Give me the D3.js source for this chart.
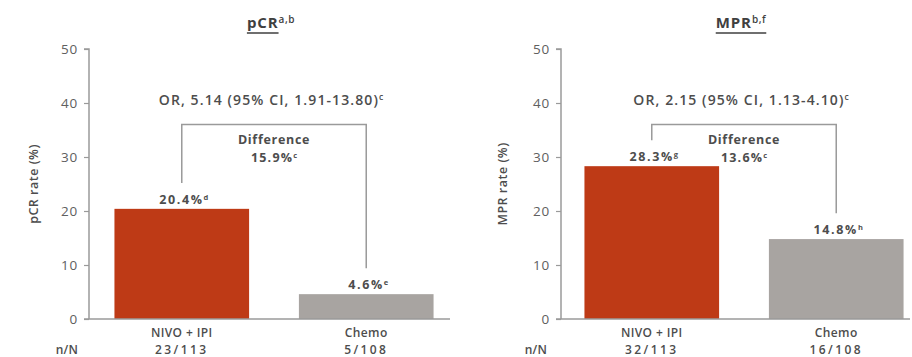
<!DOCTYPE html>
<html>
<head>
<meta charset="utf-8">
<script src="https://cdn.jsdelivr.net/npm/d3@7/dist/d3.min.js"></script>
<style>
  html, body { margin: 0; padding: 0; background: #fff; }
  svg { display: block; font-family: "Open Sans", "Noto Sans", sans-serif; }
</style>
</head>
<body>
<svg id="chart" width="912" height="357"></svg>
<script>
// Response rates by arm
const categories = ["NIVO + IPI", "Chemo"];
const pcrValues = [20.4, 4.6];
const pcrNotes = ["d", "e"];
const pcrCounts = ["23/113", "5/108"];
const mprValues = [28.3, 14.8];
const mprNotes = ["g", "h"];
const mprCounts = ["32/113", "16/108"];
const yTicks = [0, 10, 20, 30, 40, 50];
const differences = ["15.9%", "13.6%"];
const oddsRatios = ["OR, 5.14 (95% CI, 1.91-13.80)", "OR, 2.15 (95% CI, 1.13-4.10)"];

const panels = [
  { title: "pCR", titleSup: "a,b", underlineSup: false, yLabel: "pCR rate (%)",
    values: pcrValues, notes: pcrNotes, counts: pcrCounts, diff: differences[0], or: oddsRatios[0],
    axisX: 89, bandRange: [96, 452], baseEnd: 450, labelX: 38 },
  { title: "MPR", titleSup: "b,f", underlineSup: true, yLabel: "MPR rate (%)",
    values: mprValues, notes: mprNotes, counts: mprCounts, diff: differences[1], or: oddsRatios[1],
    axisX: 561, bandRange: [566, 922], baseEnd: 910, labelX: 507 }
];

const colors = ["#BE3A16", "#A8A4A1"];
const textColor = "#4d4d4d";
const axisColor = "#9a9a9a";

const svg = d3.select("#chart");
const y = d3.scaleLinear().domain([0, 50]).range([319, 49]);

function label(g, x, yPos, size, weight, spacing) {
  return g.append("text").attr("x", x).attr("y", yPos)
    .attr("text-anchor", "middle").attr("fill", textColor)
    .style("font-size", size + "px").style("font-weight", weight)
    .style("letter-spacing", spacing + "px");
}

panels.forEach(p => {
  const g = svg.append("g");
  const x = d3.scaleBand().domain(categories).range(p.bandRange)
    .paddingInner(0.27).paddingOuter(0.1);
  const cx = c => x(c) + x.bandwidth() / 2;

  // y axis
  const yAxis = g.append("g")
    .attr("transform", `translate(${p.axisX},0)`)
    .call(d3.axisLeft(y).tickValues(yTicks).tickSize(5).tickPadding(6));
  yAxis.select(".domain").attr("stroke", axisColor).attr("stroke-width", 1.5)
    .attr("d", `M-5,${y(50)}H0V${y(0)}`);
  yAxis.selectAll(".tick line").attr("stroke", axisColor).attr("stroke-width", 1.2);
  yAxis.selectAll(".tick text").attr("fill", "#606060")
    .style("font-size", "13.5px").style("letter-spacing", "0.8px")
    .style("font-family", "'Open Sans', sans-serif");

  // y axis label
  g.append("text")
    .attr("transform", `translate(${p.labelX},${y(25)}) rotate(-90)`)
    .attr("text-anchor", "middle").attr("fill", textColor)
    .style("font-size", "12.5px").style("font-weight", 600).style("letter-spacing", "0.5px")
    .text(p.yLabel);

  // bars
  g.selectAll("rect.bar").data(p.values).join("rect")
    .attr("class", "bar")
    .attr("x", (d, i) => x(categories[i]))
    .attr("width", x.bandwidth())
    .attr("y", d => y(d))
    .attr("height", d => y(0) - y(d))
    .attr("fill", (d, i) => colors[i]);

  // baseline
  g.append("line")
    .attr("x1", p.axisX - 5).attr("x2", p.baseEnd)
    .attr("y1", y(0)).attr("y2", y(0))
    .attr("stroke", axisColor).attr("stroke-width", 1.5);

  // value labels
  p.values.forEach((v, i) => {
    const t = label(g, cx(categories[i]) + 2, y(v) - 5, 12.5, 700, 1.6);
    t.append("tspan").text(v.toFixed(1) + "%");
    t.append("tspan").attr("dy", -4).style("font-size", "7.5px").style("letter-spacing", "0px")
      .text(p.notes[i]);
  });

  // category labels and counts
  categories.forEach((c, i) => {
    label(g, cx(c), 337, 12, 600, 0.4).text(c);
    label(g, cx(c), 354, 12, 600, 2.4).text(p.counts[i]);
  });
  label(g, p.labelX + 29, 354, 12, 600, 0.3).text("n/N");

  // difference bracket
  const x0 = cx(categories[0]), x1 = cx(categories[1]);
  const top = 36, gap = 4.8;
  g.append("path")
    .attr("d", `M${x0},${y(p.values[0] + gap)}V${y(top)}H${x1}V${y(p.values[1] + gap)}`)
    .attr("fill", "none").attr("stroke", axisColor).attr("stroke-width", 1.5);
  const mid = (x0 + x1) / 2;
  label(g, mid, y(top) + 19, 12.5, 700, 0.7).text("Difference");
  const dt = label(g, mid, y(top) + 37, 12.5, 700, 1.2);
  dt.append("tspan").text(p.diff);
  dt.append("tspan").attr("dy", -4).style("font-size", "7.5px").style("letter-spacing", "0px").text("c");

  // odds ratio
  const ot = label(g, mid - 3, 105, 14, 600, 1.1);
  ot.append("tspan").text(p.or);
  ot.append("tspan").attr("dy", -5).style("font-size", "8.5px").style("letter-spacing", "0px").text("c");

  // panel title with underline
  const tt = label(g, mid - 3, 28, 15, 700, 0.9).attr("fill", "#3f3f3f");
  tt.append("tspan").text(p.title);
  tt.append("tspan").attr("dy", -5).style("font-size", "10px").style("font-weight", 600)
    .style("letter-spacing", "0.6px").text(p.titleSup);
  const node = tt.node();
  const lastChar = p.underlineSup ? node.getNumberOfChars() - 1 : p.title.length - 1;
  const ux0 = node.getStartPositionOfChar(0).x;
  const ux1 = node.getEndPositionOfChar(lastChar).x;
  g.append("line").attr("x1", ux0).attr("x2", ux1).attr("y1", 33).attr("y2", 33)
    .attr("stroke", "#3f3f3f").attr("stroke-width", 1.5);
});
</script>
</body>
</html>
